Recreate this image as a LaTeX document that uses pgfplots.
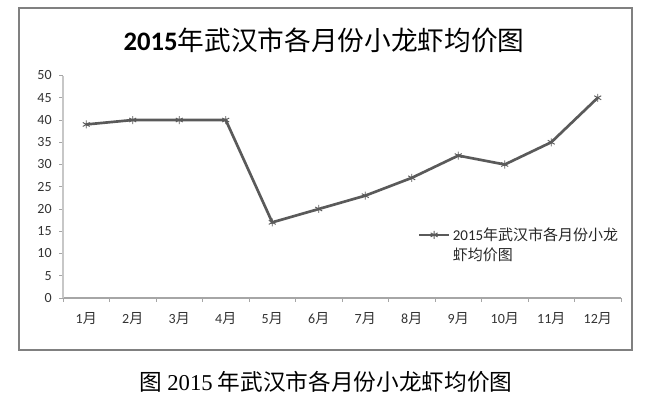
\documentclass[border=0pt]{standalone}
\usepackage{fontspec}
\usepackage{pgfplots}
\pgfplotsset{compat=1.18}
\setmainfont{Carlito}
\newfontfamily\cjk{Noto Sans CJK SC}
\newfontfamily\tnr{Liberation Serif}
\definecolor{linegray}{HTML}{5A5A5A}
\newcommand{\M}[1]{#1{\cjk 月}}
\begin{document}
\begin{tikzpicture}[x=0.75pt,y=0.75pt]
\path[use as bounding box] (0,0) rectangle (649,399);
\draw[color=black!50, line width=0.9pt] (19,49) rectangle (632,391);
\node[font=\fontsize{20}{24}\selectfont] at (324,359) {\textbf{2015}{\cjk 年武汉市各月份小龙虾均价图}};
\node[font=\fontsize{17}{20}\selectfont] at (326,17) {{\cjk 图} {\tnr 2015} {\cjk 年武汉市各月份小龙虾均价图}};
\begin{axis}[at={(47.25pt,75.75pt)}, anchor=south west,
  width=418.5pt, height=166.875pt, scale only axis,
  xmin=0.5, xmax=12.5, ymin=0, ymax=50,
  ytick={0,5,...,50},
  xtick={1,...,12},
  xticklabels={\M1,\M2,\M3,\M4,\M5,\M6,\M7,\M8,\M9,\M{10},\M{11},\M{12}},
  minor xtick={0.5,1.5,...,12.5},
  major x tick style={draw=none},
  tick align=outside,
  major tick length=3pt, minor tick length=3pt,
  tick style={black!35, line width=0.6pt},
  axis x line*=bottom, axis y line*=left,
  x axis line style={-, black!35, line width=0.8pt},
  y axis line style={-, black!22, line width=0.8pt},
  ticklabel style={font=\fontsize{10.5}{12}\selectfont, text=black!80},
  /pgf/number format/assume math mode=true,
  yticklabel style={xshift=-2pt},
  xticklabel style={yshift=-4pt},
  legend style={at={(0.636,0.33)}, anchor=north west, draw=none, fill=none,
    font=\fontsize{11.25}{15}\selectfont, text=black!85, inner sep=0pt},
  legend cell align=left,
  legend image code/.code={\draw[mark repeat=2,mark phase=2,#1] plot coordinates {(0pt,0pt) (11pt,0pt) (22pt,0pt)};},
]
\addplot[color=linegray, line width=2pt, mark=asterisk, mark size=3pt, mark options={line width=0.7pt}]
  coordinates {(1,39) (2,40) (3,40) (4,40) (5,17) (6,20) (7,23) (8,27) (9,32) (10,30) (11,35) (12,45)};
\addlegendentry{\parbox[t]{130pt}{2015{\cjk 年武汉市各月份小龙}\\{\cjk 虾均价图}}}
\end{axis}
\end{tikzpicture}
\end{document}
